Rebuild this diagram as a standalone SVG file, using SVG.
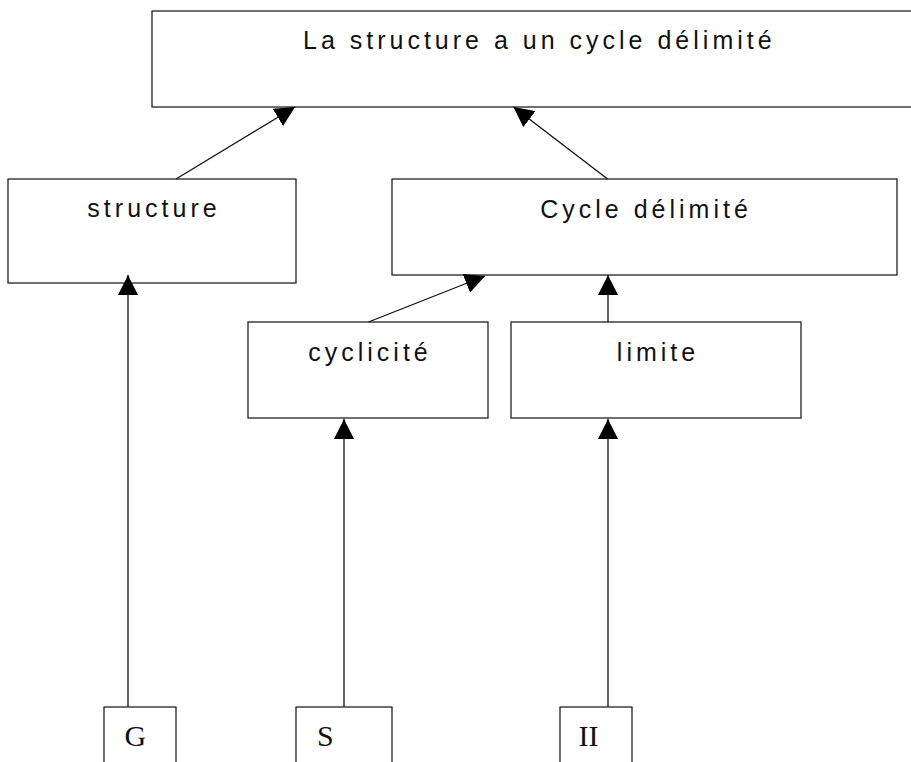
<svg xmlns="http://www.w3.org/2000/svg" width="911" height="762" viewBox="0 0 911 762">
<defs>
<style>
.box{fill:#fff;stroke:#222;stroke-width:1.3}
.lbl{font-family:"Liberation Sans",Arial,sans-serif;font-size:25px;letter-spacing:4px;fill:#111}
.ser{font-family:"Liberation Serif","Times New Roman",serif;font-size:30px;fill:#111}
.con{stroke:#111;stroke-width:1.3;fill:none;marker-end:url(#ah)}
</style>
<marker id="ah" markerUnits="userSpaceOnUse" markerWidth="20" markerHeight="20" refX="20" refY="10" orient="auto" viewBox="0 0 20 20">
<path d="M0,0 L20,10 L0,20 z" fill="#000"/>
</marker>
</defs>
<rect width="911" height="762" fill="#fff"/>
<g id="top">
<rect class="box" x="152" y="11" width="770" height="96"/>
<text class="lbl" x="303" y="49">La structure a un cycle délimité</text>
</g>
<g id="structure">
<rect class="box" x="8" y="179" width="288" height="104"/>
<text class="lbl" x="154" y="217" text-anchor="middle">structure</text>
</g>
<g id="cycle">
<rect class="box" x="392" y="179" width="505" height="96"/>
<text class="lbl" x="646" y="218" text-anchor="middle">Cycle délimité</text>
</g>
<g id="cyclicite">
<rect class="box" x="248" y="322" width="240" height="96"/>
<text class="lbl" x="370" y="361" text-anchor="middle">cyclicité</text>
</g>
<g id="limite">
<rect class="box" x="511" y="322" width="290" height="96"/>
<text class="lbl" x="658" y="361" text-anchor="middle">limite</text>
</g>
<g id="G">
<rect class="box" x="104" y="707" width="72" height="70"/>
<text class="ser" x="124.5" y="746">G</text>
</g>
<g id="S">
<rect class="box" x="296" y="707" width="96" height="70"/>
<text class="ser" x="317" y="746">S</text>
</g>
<g id="II">
<rect class="box" x="560" y="707" width="72" height="70"/>
<text class="ser" x="578.5" y="746">II</text>
</g>
<g id="connectors">
<line class="con" x1="128" y1="707" x2="128" y2="275"/>
<line class="con" x1="344" y1="707" x2="344" y2="419"/>
<line class="con" x1="608" y1="707" x2="608" y2="419"/>
<line class="con" x1="608" y1="322" x2="608" y2="275"/>
<line class="con" x1="368.5" y1="322" x2="485" y2="276"/>
<line class="con" x1="176" y1="179" x2="295" y2="107"/>
<line class="con" x1="607.6" y1="179" x2="513.5" y2="107"/>
</g>
</svg>
